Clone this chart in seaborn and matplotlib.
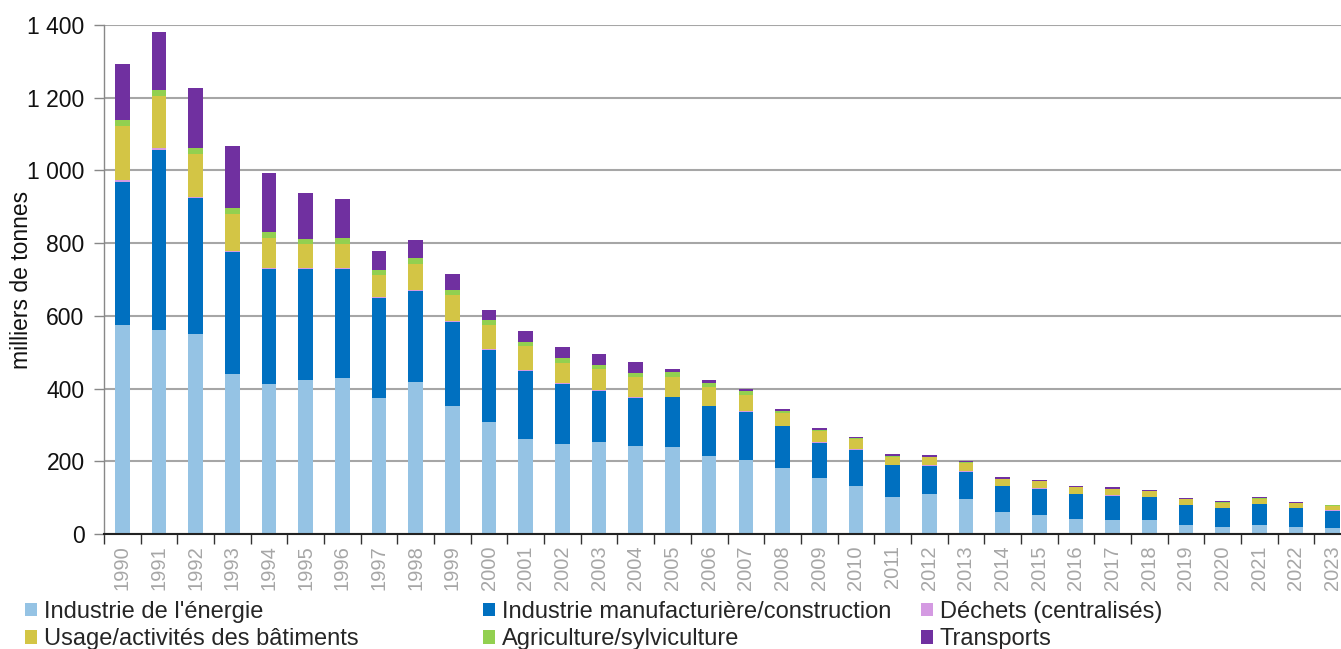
import numpy as np
import pandas as pd
import matplotlib
matplotlib.use("Agg")
import matplotlib.pyplot as plt
from matplotlib.patches import Patch
import seaborn as sns

years = list(range(1990, 2024))
energie = [575, 560, 551, 441, 413, 423, 428, 375, 419, 353, 308, 260, 247, 254, 241, 239, 214, 204, 181, 153, 131, 102, 109, 96, 60, 52, 40, 38, 38, 25, 19, 24, 19, 16]
manuf = [394, 497, 372, 334, 316, 307, 300, 273, 250, 231, 198, 189, 166, 140, 133, 137, 137, 132, 115, 97, 101, 87, 79, 75, 71, 73, 69, 67, 63, 54, 52, 58, 52, 48]
dechets = [4, 4, 4, 3, 4, 3, 3, 3, 2, 2, 2, 2, 2, 2, 2, 2, 2, 2, 2, 2, 2, 1, 1, 1, 1, 1, 1, 1, 1, 1, 1, 1, 1, 1]
batiments = [148, 143, 117, 101, 81, 65, 67, 61, 72, 72, 66, 65, 56, 58, 56, 55, 51, 45, 34, 31, 26, 23, 23, 24, 19, 20, 18, 18, 15, 16, 14, 14, 13, 13]
agriculture = [18, 18, 19, 19, 17, 14, 16, 13, 15, 14, 14, 13, 13, 11, 12, 12, 11, 10, 6, 4, 3, 2, 1, 1, 1, 1, 1, 1, 1, 1, 1, 1, 1, 1]
transports = [153, 159, 164, 169, 161, 125, 108, 53, 52, 42, 29, 29, 30, 30, 30, 9, 8, 7, 6, 4, 5, 4, 4, 3, 4, 2, 3, 3, 3, 2, 3, 3, 2, 2]

sectors = ["Industrie de l'énergie", "Industrie manufacturière/construction",
           "Déchets (centralisés)", "Usage/activités des bâtiments",
           "Agriculture/sylviculture", "Transports"]
colors = ["#95C3E4", "#0070C0", "#D49AE2", "#D3C545", "#92D050", "#7030A0"]
series = [energie, manuf, dechets, batiments, agriculture, transports]

ytick_vals = [0, 200, 400, 600, 800, 1000, 1200, 1400]
ytick_labels = ["0", "200", "400", "600", "800", "1 000", "1 200", "1 400"]

rows = []
for name, vals in zip(sectors, series):
    for y, v in zip(years, vals):
        rows.append({"annee": y, "secteur": name, "valeur": v})
df = pd.DataFrame(rows)

sns.set_theme(style="white")
plt.rcParams['font.family'] = ['Liberation Sans', 'DejaVu Sans']

fig = plt.figure(figsize=(13.41, 6.49), dpi=100)
ax = fig.add_axes([104 / 1341, 1 - 534 / 649, (1351 - 104) / 1341, (534 - 25) / 649])

hue_order = sectors[::-1]
palette = dict(zip(sectors, colors))
sns.histplot(data=df, x="annee", weights="valeur", hue="secteur", hue_order=hue_order,
             multiple="stack", discrete=True, shrink=0.4, palette=palette,
             alpha=1, linewidth=0, legend=False, ax=ax, zorder=3)

ax.set_xlim(years[0] - 0.5, years[-1] + 0.5)
ax.set_ylim(0, 1400)
ax.set_yticks(ytick_vals)
ax.set_yticklabels(ytick_labels, fontsize=16.5, color="#111111")
ax.yaxis.grid(True, color="#A6A6A6", linewidth=1.5, zorder=0)
ax.xaxis.grid(False)
ax.set_axisbelow(True)

ax.set_xticks(years)
ax.set_xticklabels([str(y) for y in years], rotation=90, fontsize=14.5, color="#A6A6A6")
ax.set_xticks([y - 0.5 for y in years] + [years[-1] + 0.5], minor=True)
ax.tick_params(axis="x", which="major", length=0, pad=8)
ax.tick_params(axis="x", which="minor", length=7, width=1, color="#333333", direction="out", bottom=True)
ax.tick_params(axis="y", which="major", length=7, width=1, color="#888888", direction="out", left=True, pad=7)

ax.set_xlabel("")
ax.set_ylabel("milliers de tonnes", fontsize=16.5, color="#111111", labelpad=-4)

for s in ["top", "right"]:
    ax.spines[s].set_visible(False)
ax.spines["left"].set_color("#888888")
ax.spines["left"].set_linewidth(1)
ax.spines["bottom"].set_color("#222222")
ax.spines["bottom"].set_linewidth(1.5)
ax.spines["bottom"].set_zorder(5)

handles = [Patch(facecolor=c, edgecolor="none") for c in colors]
cols = [(0, 3), (1, 4), (2, 5)]
xpos = [25, 483, 921]
for (i, j), xp in zip(cols, xpos):
    fig.legend([handles[i], handles[j]], [sectors[i], sectors[j]],
               loc="upper left", bbox_to_anchor=(xp / 1341, 1 - 601 / 649),
               frameon=False, fontsize=17, handlelength=0.5, handleheight=0.5,
               handletextpad=0.3, labelspacing=0.22, borderpad=0, borderaxespad=0)

fig.savefig("out.png", dpi=100)
